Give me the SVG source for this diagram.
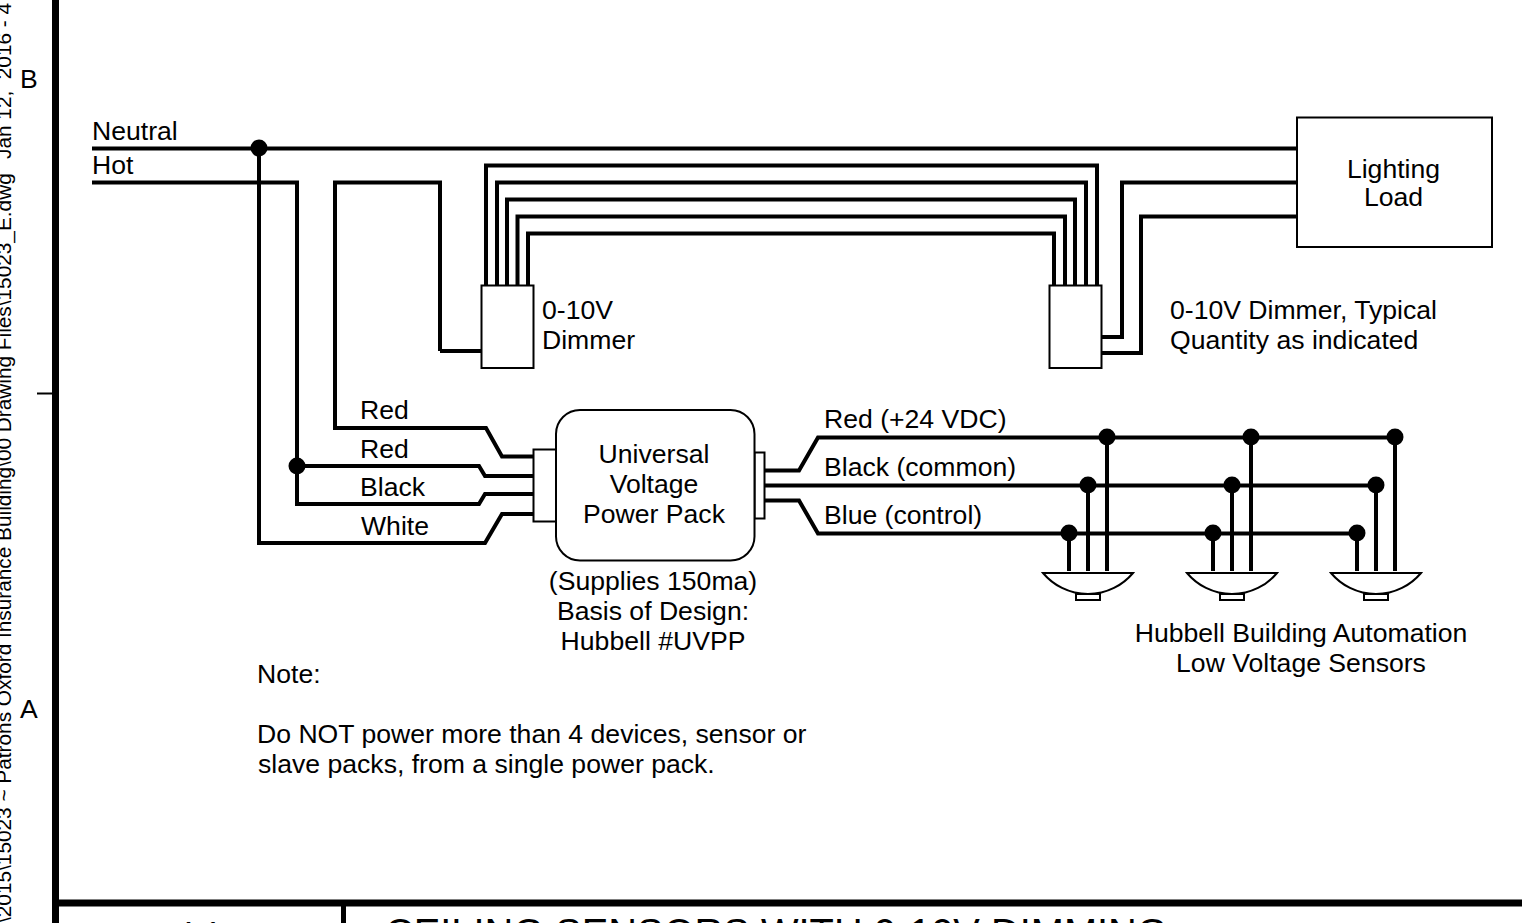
<svg xmlns="http://www.w3.org/2000/svg" width="1522" height="923" viewBox="0 0 1522 923">
<style>
text{font-family:"Liberation Sans",Arial,sans-serif;font-size:26.600px;fill:#000}
.m{text-anchor:middle}
.w{fill:none;stroke:#000;stroke-width:4;stroke-linejoin:miter}
.b{fill:#fff;stroke:#000;stroke-width:2}
.f{fill:none;stroke:#000;stroke-width:7}
.r{font-size:20.800px;white-space:pre}
</style>
<rect width="1522" height="923" fill="#fff"/>
<g id="frame">
<path class="f" d="M55.500 0V923M59 903H1522"/>
<path d="M343.500 906V923" fill="none" stroke="#000" stroke-width="5"/>
<path d="M37 393.500H52" fill="none" stroke="#000" stroke-width="2"/>
<text x="20" y="88">B</text>
<text x="20" y="718">A</text>
<text class="r" transform="translate(11 923) rotate(-90)">\2015\15023 ~ Patrons Oxford Insurance Building\00 Drawing Files\15023_E.dwg</text>
<text class="r" transform="translate(11 159) rotate(-90)">Jan 12,  2016 - 4</text>
<text x="385" y="947" style="font-size:39.800px">CEILING SENSORS WITH 0-10V DIMMING</text>
<text x="199" y="945" class="m" style="font-size:33px">4.1</text>
</g>
<g id="connectors">
<path class="w" d="M92 148.500H1297"/>
<path class="w" d="M92 182.500H297V504H479L485 494H534"/>
<path class="w" d="M259 148V543H485L502 514H534"/>
<path class="w" d="M297 466H479L485 476H534"/>
<path class="w" d="M440 351H481M440 351V182.500H335V428H486L502 456.500H534"/>
<path class="w" d="M486 285V165.500H1097V285"/>
<path class="w" d="M497 285V182.500H1086V285"/>
<path class="w" d="M507 285V199.500H1075V285"/>
<path class="w" d="M517.500 285V216.500H1065V285"/>
<path class="w" d="M528 285V233.500H1054V285"/>
<path class="w" d="M1101 337H1122V182.500H1297"/>
<path class="w" d="M1101 353H1141V216.500H1297"/>
<path class="w" d="M764 470.500H799L818 437.500H1395V571"/>
<path class="w" d="M764 485.500H1376V571"/>
<path class="w" d="M764 500.500H799L818 533.500H1357V571"/>
<path class="w" d="M1107 437V571M1251 437V571M1088 485V571M1232 485V571M1069 533V571M1213 533V571"/>
</g>
<g id="junctions" fill="#000">
<circle cx="259" cy="148" r="8.500"/><circle cx="297" cy="466" r="8.500"/>
<circle cx="1107" cy="437" r="8.500"/><circle cx="1251" cy="437" r="8.500"/><circle cx="1395" cy="437" r="8.500"/>
<circle cx="1088" cy="485" r="8.500"/><circle cx="1232" cy="485" r="8.500"/><circle cx="1376" cy="485" r="8.500"/>
<circle cx="1069" cy="533" r="8.500"/><circle cx="1213" cy="533" r="8.500"/><circle cx="1357" cy="533" r="8.500"/>
</g>
<g id="wire-labels">
<text x="92" y="140">Neutral</text><text x="92" y="174">Hot</text>
<text x="360" y="419">Red</text><text x="360" y="458">Red</text><text x="360" y="496">Black</text><text x="361" y="535">White</text>
<text x="824" y="428">Red (+24 VDC)</text><text x="824" y="476">Black (common)</text><text x="824" y="524">Blue (control)</text>
</g>
<g id="lighting-load">
<rect class="b" x="1297" y="117.500" width="195" height="129.500"/>
<text x="1393.500" y="178" class="m">Lighting</text><text x="1393.500" y="206" class="m">Load</text>
</g>
<g id="dimmer-1">
<rect class="b" x="481.500" y="285.500" width="52" height="82.500"/>
<text x="542" y="319">0-10V</text><text x="542" y="349">Dimmer</text>
</g>
<g id="dimmer-2">
<rect class="b" x="1049.500" y="285.500" width="52" height="82.500"/>
<text x="1170" y="319">0-10V Dimmer, Typical</text><text x="1170" y="349">Quantity as indicated</text>
</g>
<g id="power-pack">
<rect class="b" x="533.500" y="449.500" width="23" height="72"/>
<rect class="b" x="754.500" y="452.500" width="10" height="66"/>
<rect class="b" x="556" y="410" width="198.500" height="150.500" rx="24"/>
<text x="654" y="463" class="m">Universal</text><text x="654" y="493" class="m">Voltage</text><text x="654" y="523" class="m">Power Pack</text>
<text x="653" y="590" class="m">(Supplies 150ma)</text><text x="653" y="620" class="m">Basis of Design:</text><text x="653" y="650" class="m">Hubbell #UVPP</text>
</g>
<g id="sensors">
<g id="sensor-1"><path class="b" d="M1043 573H1133A58.700 58.700 0 0 1 1043 573Z"/><rect class="b" x="1076" y="594" width="24" height="6"/></g>
<g id="sensor-2"><path class="b" d="M1187 573H1277A58.700 58.700 0 0 1 1187 573Z"/><rect class="b" x="1220" y="594" width="24" height="6"/></g>
<g id="sensor-3"><path class="b" d="M1331 573H1421A58.700 58.700 0 0 1 1331 573Z"/><rect class="b" x="1364" y="594" width="24" height="6"/></g>
<text x="1301" y="642" class="m">Hubbell Building Automation</text><text x="1301" y="672" class="m">Low Voltage Sensors</text>
</g>
<g id="note">
<text x="257" y="683">Note:</text>
<text x="257" y="743">Do NOT power more than 4 devices, sensor or</text>
<text x="258" y="773">slave packs, from a single power pack.</text>
</g>
</svg>
